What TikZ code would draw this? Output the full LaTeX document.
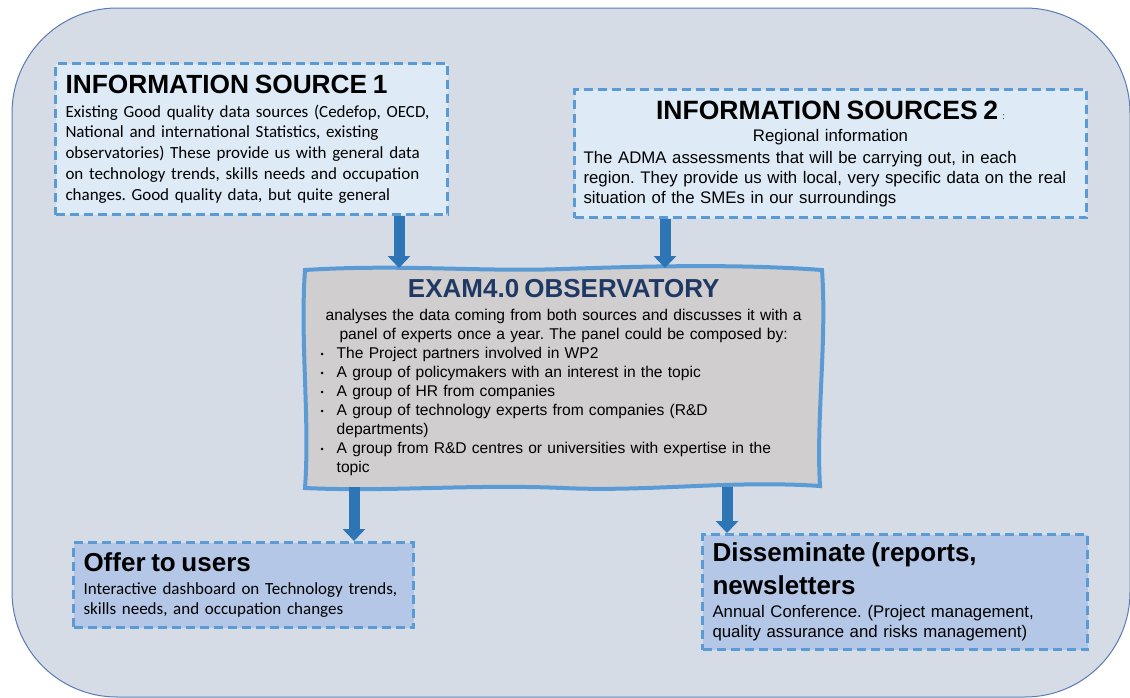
\documentclass[tikz,border=0pt]{standalone}
\usepackage{fontspec}
\setmainfont{Liberation Sans}
\newfontfamily\calfont{Carlito}
\usetikzlibrary{arrows.meta}
\definecolor{bgfill}{HTML}{D6DCE5}
\definecolor{bgline}{HTML}{5A7BB5}
\definecolor{lightbox}{HTML}{DEEBF7}
\definecolor{midbox}{HTML}{B4C7E7}
\definecolor{dashcol}{HTML}{5B9BD5}
\definecolor{arrowcol}{HTML}{2E75B6}
\definecolor{obsfill}{HTML}{D0CECE}
\definecolor{navy}{HTML}{203864}
\tikzset{
  dashbox/.style={draw=dashcol, line width=3pt, dash pattern=on 9pt off 5pt, anchor=north west, inner xsep=10pt, inner ysep=0pt, align=left},
  bigarrow/.style={draw=arrowcol, line width=11pt, -{Triangle[width=22pt,length=12pt]}},
}
\frenchspacing
\newcommand{\bodycal}{\calfont\fontsize{17}{20.8}\selectfont}
\newcommand{\bodyari}{\fontsize{16.8}{20}\selectfont}
\newcommand{\bul}{\hspace*{2pt}\makebox[16pt][l]{\fontsize{9}{9}\selectfont\raisebox{1pt}{•}}}
\begin{document}
\begin{tikzpicture}[x=1pt,y=-1pt]
\useasboundingbox (0,0) rectangle (1130,697);
\fill[white] (0,0) rectangle (1130,697);
\draw[bgline, fill=bgfill, line width=1pt, rounded corners=105pt] (12,8) rectangle (1130,697);

% Information source 1
\node[dashbox, fill=lightbox, minimum width=392pt, minimum height=151pt, text width=372pt, font=\bodycal] (src1) at (54,62)
{{\fontspec{Liberation Sans}\fontsize{26.3}{26}\selectfont\bfseries INFORMATION SOURCE 1}\\[3pt]
Existing Good quality data sources (Cedefop, OECD,\\
National and international Statistics, existing\\
observatories) These provide us with general data\\
on technology trends, skills needs and occupation\\
changes. Good quality data, but quite general};

% Information sources 2
\node[dashbox, fill=lightbox, minimum width=512pt, minimum height=128pt, text width=494pt, font=\bodyari, inner xsep=9pt] (src2) at (573,88)
{\makebox[494pt][c]{\fontsize{26.5}{26}\selectfont\bfseries INFORMATION SOURCES 2\,{\mdseries\fontsize{9}{9}\selectfont:}}\\[2pt]
\makebox[494pt][c]{Regional information}\\[2pt]
The ADMA assessments that will be carrying out, in each\\
region. They provide us with local, very specific data on the real\\
situation of the SMEs in our surroundings};

% Observatory wavy border
\draw[draw=dashcol, fill=obsfill, line width=4pt]
 (305,270) .. controls (400,264) and (480,272) .. (563,269)
 .. controls (650,266) and (740,264) .. (822,270)
 .. controls (827,340) and (816,420) .. (820,486)
 .. controls (730,480) and (650,492) .. (563,488)
 .. controls (470,484) and (390,492) .. (305,488)
 .. controls (310,420) and (300,340) .. cycle;

\node[anchor=north west, minimum width=517pt, minimum height=219pt, inner sep=0pt, text width=490pt, align=left, font=\fontsize{15.6}{19}\selectfont] (obs) at (305,268)
{\makebox[490pt][c]{\color{navy}\fontsize{26}{26}\selectfont\bfseries EXAM4.0 OBSERVATORY}\\[4pt]
\makebox[490pt][c]{analyses the data coming from both sources and discusses it with a}\\
\makebox[490pt][c]{panel of experts once a year. The panel could be composed by:}\\
\bul The Project partners involved in WP2\\
\bul A group of policymakers with an interest in the topic\\
\bul A group of HR from companies\\
\bul A group of technology experts from companies (R\&D\\
\hspace*{18pt}departments)\\
\bul A group from R\&D centres or universities with expertise in the\\
\hspace*{18pt}topic};

% Offer to users
\node[dashbox, fill=midbox, minimum width=340pt, minimum height=85pt, text width=320pt, font=\calfont\fontsize{17}{20}\selectfont] (offer) at (72,541)
{{\fontspec{Liberation Sans}\fontsize{26}{26}\selectfont\bfseries Offer to users}\\[3pt]
Interactive dashboard on Technology trends,\\
skills needs, and occupation changes};

% Disseminate
\node[dashbox, fill=midbox, minimum width=385pt, minimum height=115pt, text width=365pt, font=\fontsize{16.8}{20}\selectfont] (diss) at (701,533)
{{\fontsize{26}{26}\selectfont\bfseries Disseminate (reports,\\[8pt] newsletters}\\[3pt]
Annual Conference. (Project management,\\
quality assurance and risks management)};

% Arrows
\draw[bigarrow] (src1.south -| 399,0) -- (obs.north -| 399,0);
\draw[bigarrow] (src2.south -| 665,0) -- (obs.north -| 665,0);
\draw[bigarrow] (obs.south -| 354,0) -- (offer.north -| 354,0);
\draw[bigarrow] (obs.south -| 727,0) -- (diss.north -| 727,0);
\end{tikzpicture}
\end{document}
